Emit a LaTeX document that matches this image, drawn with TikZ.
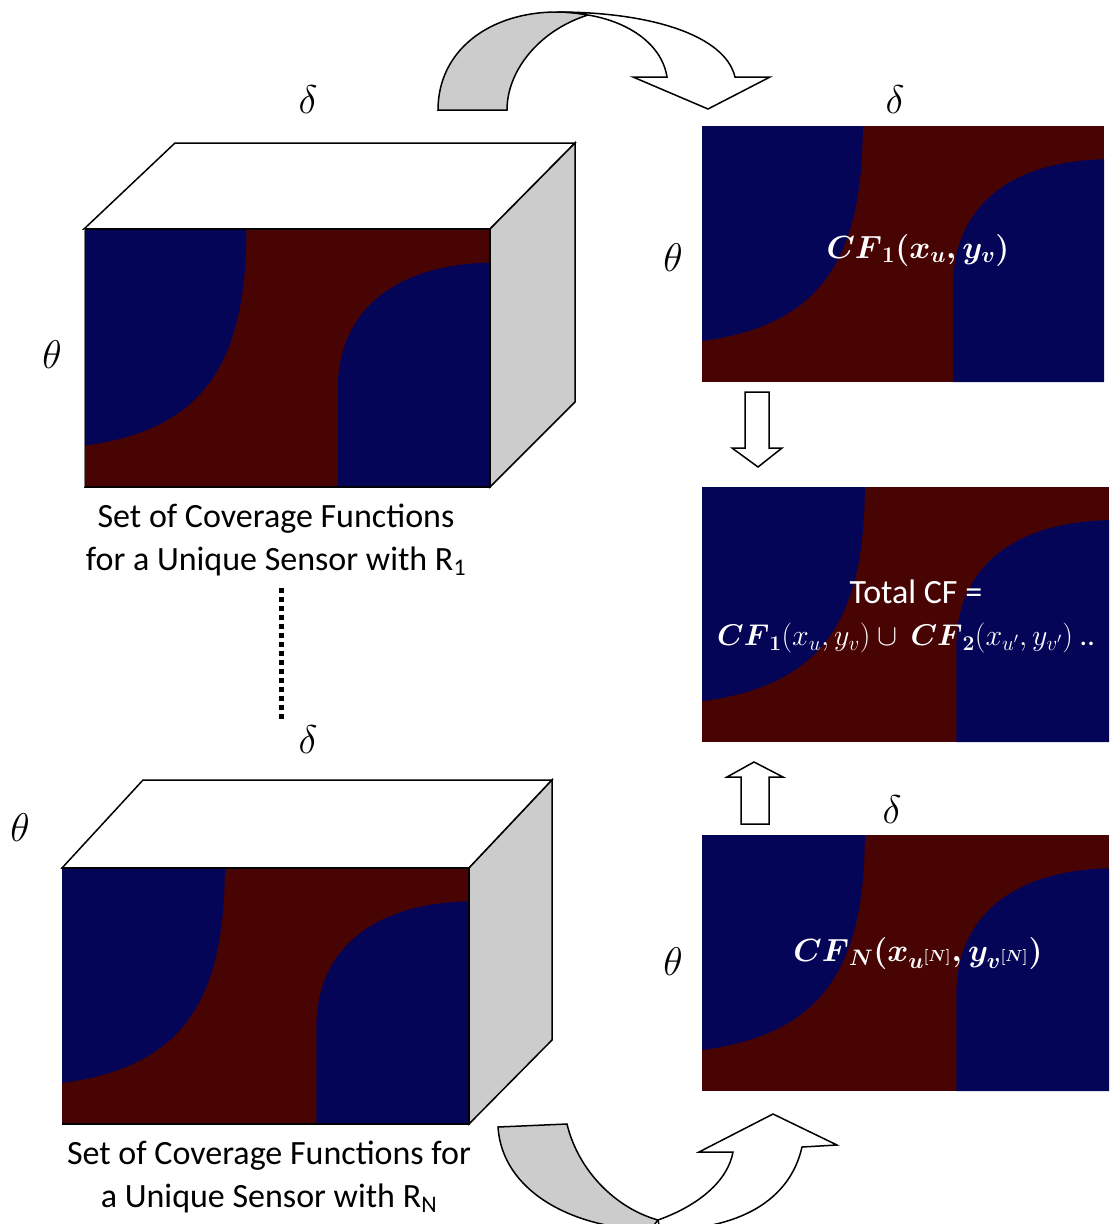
\RequirePackage{fix-cm}
\documentclass[tikz,border=0pt]{standalone}
\usepackage{amsmath}
\usepackage{fontspec}
\setmainfont{Carlito}
\definecolor{cfblue}{RGB}{5,5,88}
\definecolor{cfred}{RGB}{72,3,3}
\definecolor{bandgray}{RGB}{204,204,204}
\newcommand{\cfmap}[5]{%
  \begin{scope}[shift={(#2,#3)}, xscale=#4, yscale=#5]
    \clip (0,0) rectangle (1,1);
    \fill[cfred] (0,0) rectangle (1,1);
    \fill[cfblue] (0,0) -- (0.40,0) .. controls (0.40,0.55) and (0.28,0.78) .. (0,0.84) -- cycle;
    \fill[cfblue] (1,0.13) .. controls (0.74,0.14) and (0.625,0.35) .. (0.625,0.62) -- (0.625,1) -- (1,1) -- cycle;
  \end{scope}
  \node[inner sep=0pt, minimum width=#4pt, minimum height=#5pt, anchor=north west] (#1) at (#2,#3) {};
}
\begin{document}
\begin{tikzpicture}[x=1pt, y=-1pt,
  outl/.style={draw=black, line width=1.5pt, line join=miter},
  band/.style={draw=black, line width=1.5pt, fill=bandgray},
  whitearrow/.style={draw=black, line width=1.5pt, fill=white, line join=miter},
  greek/.style={font=\fontsize{40}{46}\selectfont, inner sep=0pt},
  lbl/.style={font=\fontsize{34}{43}\selectfont, align=center, inner sep=0pt},
  paneltxt/.style={font=\fontsize{32}{40}\selectfont, text=white, inner sep=0pt}]
\useasboundingbox (0,0) rectangle (1109,1224);

% ---------- top cube ----------
\filldraw[outl, fill=white] (84,229) -- (175,143) -- (575,143) -- (490,229) -- cycle;
\filldraw[outl, fill=bandgray] (490,229) -- (575,143) -- (575,402) -- (490,487) -- cycle;
\cfmap{cubeA}{84}{229}{406}{258}
\draw[line width=1.5pt] (84,487) -- (490,487) -- (490,229) -- (84,229);
\draw[line width=0.6pt, gray] (84,229) -- (84,487);

% ---------- bottom cube ----------
\filldraw[outl, fill=white] (62,868) -- (143,780) -- (552,780) -- (469,868) -- cycle;
\filldraw[outl, fill=bandgray] (469,868) -- (552,780) -- (552,1040) -- (469,1124) -- cycle;
\cfmap{cubeB}{62}{868}{407}{256}
\draw[line width=1.5pt] (62,1124) -- (469,1124) -- (469,868) -- (62,868);

% ---------- right panels ----------
\cfmap{panA}{702}{126}{402}{256}
\cfmap{panT}{702}{487}{407}{255}
\cfmap{panN}{702}{835}{407}{256}

% ---------- greek labels ----------
\node[greek] (dA) at (308,100) {$\delta$};
\node[greek] (tA) at (52,355) {$\theta$};
\node[greek] (dB) at (308,740) {$\delta$};
\node[greek] (tB) at (20,828) {$\theta$};
\node[greek] (dP) at (895,100) {$\delta$};
\node[greek] (tP) at (673,258) {$\theta$};
\node[greek] (dN) at (892,810) {$\delta$};
\node[greek] (tN) at (673,962) {$\theta$};

% ---------- captions ----------
\node[lbl] (capA) at (276,540) {Set of Coverage Functions\\for a Unique Sensor with R\textsubscript{1}};
\node[lbl] (capB) at (269,1177) {Set of Coverage Functions for\\a Unique Sensor with R\textsubscript{N}};
\coordinate (dotTop) at (281,588);
\coordinate (dotBot) at (281,722);
\draw[line width=5pt, dash pattern=on 5pt off 4pt] (dotTop) -- (dotBot);

% ---------- panel texts ----------
\node[paneltxt] (txA) at (918,250) {$\boldsymbol{CF}_{\boldsymbol{1}}\boldsymbol{(x_u, y_v)}$};
\node[paneltxt, font=\fontsize{34}{40}\selectfont] (txT1) at (916,592) {Total CF =};
\node[paneltxt, font=\fontsize{30}{38}\selectfont, anchor=west] (txT2) at (717,638) {$\boldsymbol{CF}_{\boldsymbol{1}}(x_u, y_v)\cup\ \boldsymbol{CF}_{\boldsymbol{2}}(x_{u'}, y_{v'})$ ..};
\node[paneltxt] (txN) at (918,953) {$\boldsymbol{CF}_{\boldsymbol{N}}\boldsymbol{(x_{u^{[N]}}, y_{v^{[N]}})}$};

% ---------- block arrows ----------
\filldraw[whitearrow] (745,392) -- (769,392) -- (769,448) -- (782,448) -- (758,467) -- (732,448) -- (745,448) -- cycle;
\filldraw[whitearrow] (741,824) -- (769,824) -- (769,777) -- (783,777) -- (754,762) -- (727,777) -- (741,777) -- cycle;

% ---------- top curved arrow ----------
\filldraw[band] (438,110) .. controls (438,50) and (490,12) .. (557,12)
  .. controls (567,12) and (578,13) .. (588,15)
  .. controls (540,30) and (507,70) .. (507,110) -- cycle;
\filldraw[whitearrow] (557,12) .. controls (650,12) and (725,35) .. (735,77)
  -- (770,77) -- (708,109) -- (633,77) -- (667,77)
  .. controls (662,45) and (630,22) .. (588,15)
  .. controls (578,13) and (567,12) .. (557,12) -- cycle;

% ---------- bottom curved arrow ----------
\filldraw[band] (498,1127) -- (567,1124) .. controls (578,1170) and (615,1208) .. (658,1220)
  -- (650,1230) .. controls (570,1228) and (502,1190) .. (498,1127) -- cycle;
\filldraw[whitearrow] (658,1220) .. controls (700,1205) and (728,1180) .. (733,1152)
  -- (699,1152) -- (773,1114) -- (837,1145) -- (802,1147)
  .. controls (790,1200) and (740,1230) .. (660,1230) -- cycle;
\end{tikzpicture}
\end{document}
